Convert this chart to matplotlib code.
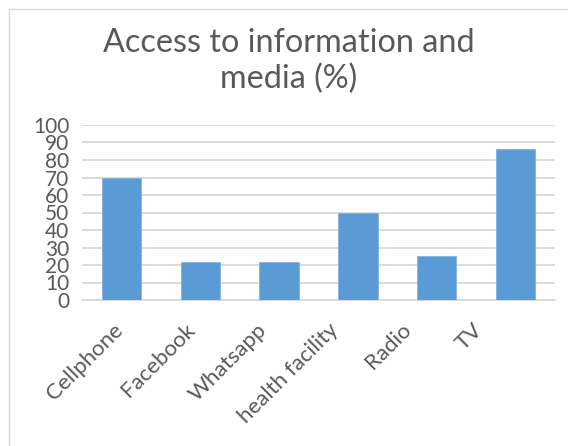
import matplotlib
matplotlib.use("Agg")
import matplotlib.pyplot as plt
from matplotlib.patches import Rectangle
from matplotlib.transforms import ScaledTranslation

categories = ["Cellphone", "Facebook", "Whatsapp", "health facility", "Radio", "TV"]
values = [70, 22, 22, 50, 25, 86]
yticks = list(range(0, 101, 10))

plt.rcParams['font.family'] = ['Lato', 'DejaVu Sans']
text_color = "#595959"

fig = plt.figure(figsize=(5.68, 4.46), dpi=100)
fig.patches.append(Rectangle((9 / 568, -0.1), 1.2, 1 - 9 / 446 + 0.1,
                             transform=fig.transFigure, fill=False,
                             edgecolor="#D9D9D9", linewidth=1.0))

ax = fig.add_axes([82 / 568, 1 - 300 / 446, (555 - 82) / 568, 175 / 446])
x = range(len(categories))
ax.bar(x, values, width=0.5, color="#5B9BD5", edgecolor="#7FB2E0", linewidth=0.6, zorder=3)

ax.set_xlim(-0.5, len(categories) - 0.5)
ax.set_ylim(0, 100)
ax.set_yticks(yticks)
ax.set_yticklabels([str(t) for t in yticks], fontsize=15, color=text_color)
ax.set_xticks(list(x))
ax.set_xticklabels(categories, rotation=45, ha="right", rotation_mode="anchor",
                   fontsize=16, color=text_color)
ax.tick_params(axis="both", length=0)
ax.tick_params(axis="y", pad=9)
ax.tick_params(axis="x", pad=14)
ax.yaxis.grid(True, color="#D9D9D9", linewidth=1.3, zorder=0)
for side in ["top", "right", "left"]:
    ax.spines[side].set_visible(False)
ax.spines["bottom"].set_color("#D9D9D9")
ax.spines["bottom"].set_linewidth(1.3)

# excel packs the rotated labels a little tighter than the bars
for i, lab in enumerate(ax.get_xticklabels()):
    lab.set_transform(lab.get_transform() +
                      ScaledTranslation(-(9 + 6.8 * i) / 100, 0, fig.dpi_scale_trans))

fig.text(289 / 568, 1 - 88 / 446, "Access to information and\nmedia (%)",
         ha="center", va="baseline", fontsize=23.3, color=text_color, linespacing=1.22)

fig.savefig("out.png", dpi=100)
